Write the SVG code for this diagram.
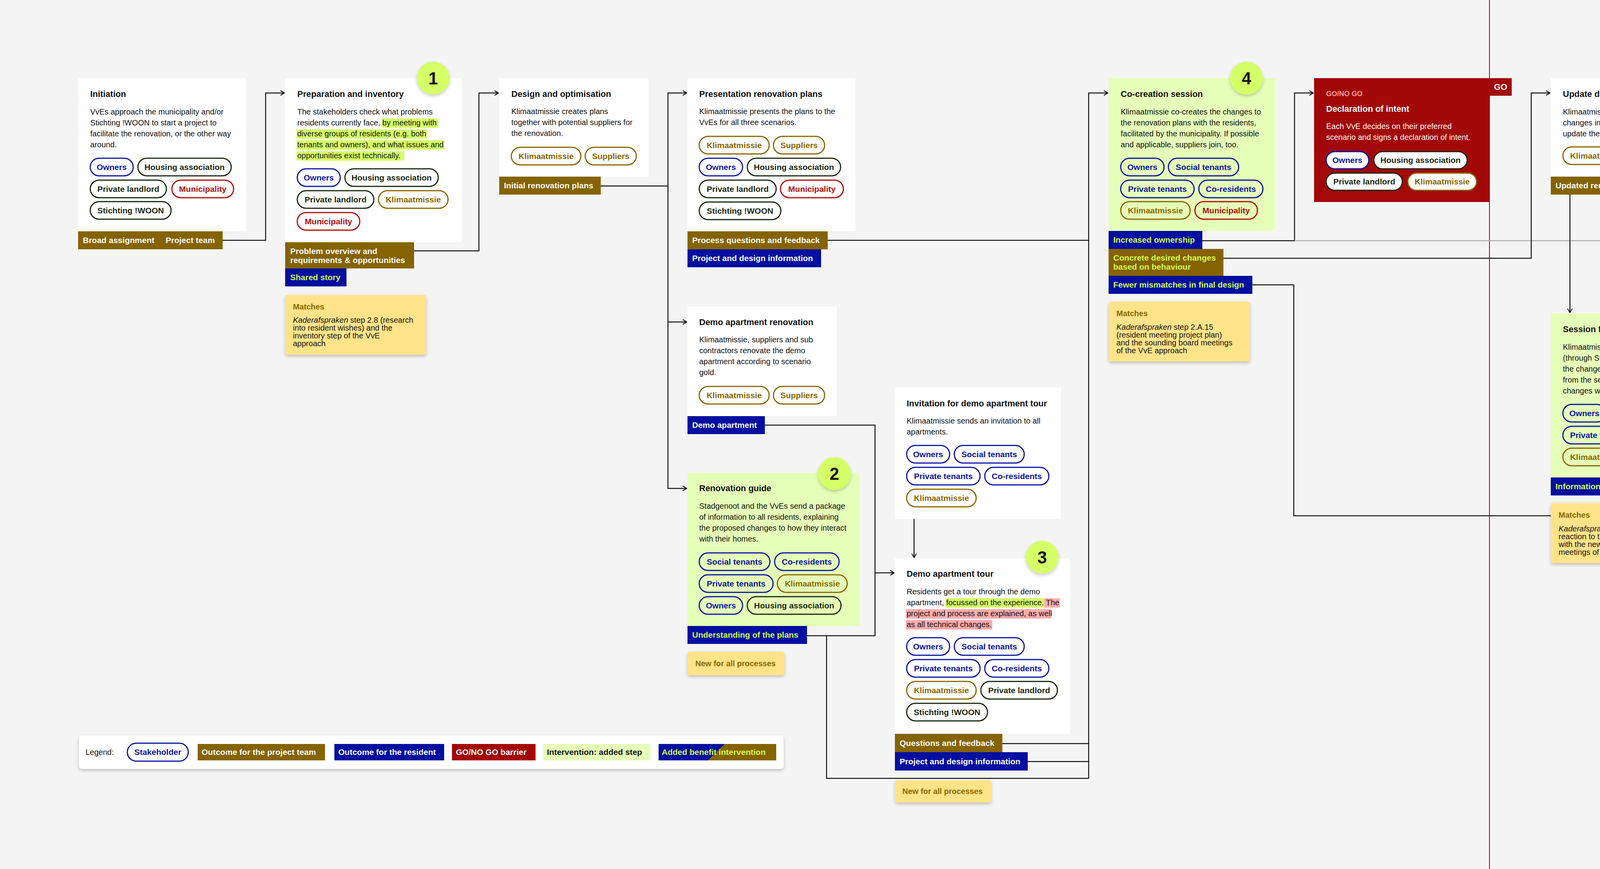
<svg xmlns="http://www.w3.org/2000/svg" width="6916" height="2224" viewBox="0 0 6916 2224">
<style>
text{font-family:"Liberation Sans",Arial,sans-serif}
.t{font-size:22px;font-weight:bold;fill:#111}
.tw{font-size:22px;font-weight:bold;fill:#fff}
.b{font-size:20px;fill:#111}
.bw{font-size:20px;fill:#fff}
.gng{font-size:18px;font-weight:bold;fill:#ff9f9f}
.box{fill:#fff}
.grn{fill:#e5ffb8}
.red{fill:#a30808}
.gold{fill:#856300}
.blue{fill:#000f9f}
.bt{font-size:21px;font-weight:bold;fill:#fff}
.bl{font-size:21px;font-weight:bold;fill:#d2ff4d}
.bk{font-size:21px;font-weight:bold;fill:#111}
.pill rect{fill:none;stroke-width:3}
.w rect{fill:#fff}
.pill text{font-size:21px;font-weight:bold;text-anchor:middle}
.pb rect{stroke:#0a14a5}.pb text{fill:#0a14a5}
.pd rect{stroke:#1a2810}.pd text{fill:#1a2810}
.pr rect{stroke:#b30b0b}.pr text{fill:#b30b0b}
.pg rect{stroke:#8a6500}.pg text{fill:#8a6500}
.pf rect{stroke:#8d92e0}.pf text{fill:#8d92e0}
.circ circle{fill:#d5ff66}
.circ text{font-size:44px;font-weight:bold;fill:#111;text-anchor:middle}
.note rect{fill:#ffe389}
.nh{font-size:20px;font-weight:bold;fill:#8a6500}
.nb{font-size:20px;fill:#111}
.hg{fill:#d5ff66}
.hp{fill:#ffabab}
.go text{font-size:22px;font-weight:bold;fill:#fff;text-anchor:middle}
.con path{fill:none;stroke:#111;stroke-width:2.5}
.con .gr{stroke:#aaa}
.rl{stroke:#a30808;stroke-width:2}
</style>
<defs>
<filter id="sh" x="-20%" y="-20%" width="140%" height="150%"><feDropShadow dx="0" dy="4" stdDeviation="4" flood-color="#000" flood-opacity="0.22"/></filter>
<marker id="a" viewBox="0 0 12 14" refX="11" refY="7" markerWidth="12" markerHeight="14" markerUnits="userSpaceOnUse" orient="auto"><path d="M1,1 L11,7 L1,13" fill="none" stroke="#111" stroke-width="2.2"/></marker>
<marker id="ag" viewBox="0 0 12 14" refX="11" refY="7" markerWidth="12" markerHeight="14" markerUnits="userSpaceOnUse" orient="auto"><path d="M1,1 L11,7 L1,13" fill="none" stroke="#999" stroke-width="2.2"/></marker>
</defs>
<rect width="6916" height="2224" fill="#f4f4f4"/>
<g id="barriers">
<line class="rl" x1="3813" y1="0" x2="3813" y2="2224"/>
<line class="rl" x1="4893" y1="0" x2="4893" y2="2224"/>
<line class="rl" x1="6033" y1="0" x2="6033" y2="2224"/>
</g>
<g id="connectors" class="con">
<path d="M570,615 H680 V238 H728" marker-end="url(#a)"/>
<path d="M1060,642 H1226 V238 H1276" marker-end="url(#a)"/>
<path d="M1538,476 H1710 V238 H1758" marker-end="url(#a)"/>
<path d="M1710,476 V1250 H1758" marker-end="url(#a)"/>
<path d="M1710,824 H1758" marker-end="url(#a)"/>
<path d="M2119,615 H2787"/>
<path d="M1958,1088 H2240 V1627 H2066"/>
<path d="M2240,1466 H2289" marker-end="url(#a)"/>
<path d="M2340,1328 V1427" marker-end="url(#a)"/>
<path d="M2116,1627 V1992 H2787"/>
<path d="M2566,1903 H2787"/>
<path d="M2631,1949 H2787"/>
<path d="M2787,1992 V238 H2836" marker-end="url(#a)"/>
<path d="M3078,616 H3314 V238 H3362" marker-end="url(#a)"/>
<path class="gr" d="M3314,616 H4416 V238 H4450" marker-end="url(#ag)"/>
<path class="gr" d="M4377,1246 H4416 V616"/>
<path d="M3132,661 H3920 V238 H3968" marker-end="url(#a)"/>
<path d="M3206,729 H3312 V1320 H6140"/>
<path d="M5238,672 H6140"/>
<path d="M6140,1320 V238 H6188" marker-end="url(#a)"/>
<path d="M4260,476 H4388 V766 H5000 V238 H5048" marker-end="url(#a)"/>
<path d="M4019,497 V800" marker-end="url(#a)"/>
<path d="M5332,718 H5558 V238 H5608" marker-end="url(#a)"/>
<path d="M6240,609 V750 H6288" marker-end="url(#a)"/>
</g>

<g id="initiation">
<rect class="box" x="200" y="200" width="430" height="392"/>
<text class="t" x="231" y="248">Initiation</text>
<text class="b" x="231" y="293">VvEs approach the municipality and/or<tspan x="231" dy="28">Stichting !WOON to start a project to</tspan><tspan x="231" dy="28">facilitate the renovation, or the other way</tspan><tspan x="231" dy="28">around.</tspan></text>
<g class="pill pb"><rect x="231" y="405" width="110" height="45" rx="22.5"/><text x="286" y="435">Owners</text></g>
<g class="pill pd"><rect x="353" y="405" width="239" height="45" rx="22.5"/><text x="472.5" y="435">Housing association</text></g>
<g class="pill pd"><rect x="231" y="461" width="195" height="45" rx="22.5"/><text x="328.5" y="491">Private landlord</text></g>
<g class="pill pr"><rect x="440" y="461" width="158" height="45" rx="22.5"/><text x="519" y="491">Municipality</text></g>
<g class="pill pd"><rect x="231" y="516" width="207" height="45" rx="22.5"/><text x="334.5" y="546">Stichting !WOON</text></g>
<rect class="gold" x="200" y="592" width="370" height="46"/>
<text class="bt" x="212" y="622">Broad assignment</text>
<text class="bt" x="424" y="622">Project team</text>
</g>

<g id="preparation">
<rect class="box" x="730" y="200" width="452" height="420"/>
<rect class="hg" x="978" y="303" width="144" height="24"/>
<rect class="hg" x="759" y="331" width="334" height="24"/>
<rect class="hg" x="759" y="359" width="378" height="24"/>
<rect class="hg" x="759" y="387" width="276" height="24"/>
<text class="t" x="761" y="248">Preparation and inventory</text>
<text class="b" x="761" y="293">The stakeholders check what problems<tspan x="761" dy="28">residents currently face, by meeting with</tspan><tspan x="761" dy="28">diverse groups of residents (e.g. both</tspan><tspan x="761" dy="28">tenants and owners), and what issues and</tspan><tspan x="761" dy="28">opportunities exist technically.</tspan></text>
<g class="pill pb"><rect x="761" y="432" width="110" height="45" rx="22.5"/><text x="816" y="462">Owners</text></g>
<g class="pill pd"><rect x="883" y="432" width="239" height="45" rx="22.5"/><text x="1002.5" y="462">Housing association</text></g>
<g class="pill pd"><rect x="761" y="488" width="196" height="45" rx="22.5"/><text x="859" y="518">Private landlord</text></g>
<g class="pill pg"><rect x="969" y="488" width="178" height="45" rx="22.5"/><text x="1058" y="518">Klimaatmissie</text></g>
<g class="pill pr"><rect x="761" y="544" width="160" height="45" rx="22.5"/><text x="841" y="574">Municipality</text></g>
<rect class="gold" x="730" y="620" width="330" height="67"/>
<text class="bt" x="743" y="650">Problem overview and<tspan x="743" dy="23">requirements &amp; opportunities</tspan></text>
<rect class="blue" x="730" y="687" width="157" height="46"/>
<text class="bl" x="743" y="717">Shared story</text>
<g class="circ" filter="url(#sh)"><circle cx="1109" cy="200" r="42"/></g>
<g class="circ"><text x="1109" y="216">1</text></g>
<g class="note"><rect x="730" y="755" width="361" height="153" rx="6" filter="url(#sh)"/>
<text class="nh" x="750" y="792">Matches</text>
<text class="nb" x="750" y="826"><tspan font-style="italic">Kaderafspraken</tspan> step 2.8 (research<tspan x="750" dy="20">into resident wishes) and the</tspan><tspan x="750" dy="20">inventory step of the VvE</tspan><tspan x="750" dy="20">approach</tspan></text></g>
</g>

<g id="design">
<rect class="box" x="1278" y="200" width="382" height="252"/>
<text class="t" x="1309" y="248">Design and optimisation</text>
<text class="b" x="1309" y="292">Klimaatmissie creates plans<tspan x="1309" dy="28">together with potential suppliers for</tspan><tspan x="1309" dy="28">the renovation.</tspan></text>
<g class="pill pg"><rect x="1309" y="377" width="178" height="45" rx="22.5"/><text x="1398" y="407">Klimaatmissie</text></g>
<g class="pill pg"><rect x="1498" y="377" width="131" height="45" rx="22.5"/><text x="1563.5" y="407">Suppliers</text></g>
<rect class="gold" x="1278" y="452" width="260" height="46"/>
<text class="bt" x="1290" y="482">Initial renovation plans</text>
</g>

<g id="presentation">
<rect class="box" x="1760" y="200" width="430" height="392"/>
<text class="t" x="1790" y="248">Presentation renovation plans</text>
<text class="b" x="1790" y="292">Klimaatmissie presents the plans to the<tspan x="1790" dy="28">VvEs for all three scenarios.</tspan></text>
<g class="pill pg"><rect x="1790" y="349" width="179" height="45" rx="22.5"/><text x="1879.5" y="379">Klimaatmissie</text></g>
<g class="pill pg"><rect x="1980" y="349" width="131" height="45" rx="22.5"/><text x="2045.5" y="379">Suppliers</text></g>
<g class="pill pb"><rect x="1790" y="405" width="111" height="45" rx="22.5"/><text x="1845.5" y="435">Owners</text></g>
<g class="pill pd"><rect x="1913" y="405" width="239" height="45" rx="22.5"/><text x="2032.5" y="435">Housing association</text></g>
<g class="pill pd"><rect x="1790" y="461" width="197" height="45" rx="22.5"/><text x="1888.5" y="491">Private landlord</text></g>
<g class="pill pr"><rect x="1998" y="461" width="161" height="45" rx="22.5"/><text x="2078.5" y="491">Municipality</text></g>
<g class="pill pd"><rect x="1790" y="517" width="209" height="45" rx="22.5"/><text x="1894.5" y="547">Stichting !WOON</text></g>
<rect class="gold" x="1760" y="592" width="359" height="46"/>
<text class="bt" x="1772" y="622">Process questions and feedback</text>
<rect class="blue" x="1760" y="638" width="342" height="46"/>
<text class="bt" x="1772" y="668">Project and design information</text>
</g>

<g id="demo-renovation">
<rect class="box" x="1760" y="784" width="382" height="281"/>
<text class="t" x="1790" y="832">Demo apartment renovation</text>
<text class="b" x="1790" y="876">Klimaatmissie, suppliers and sub<tspan x="1790" dy="28">contractors renovate the demo</tspan><tspan x="1790" dy="28">apartment according to scenario</tspan><tspan x="1790" dy="28">gold.</tspan></text>
<g class="pill pg"><rect x="1790" y="989" width="179" height="45" rx="22.5"/><text x="1879.5" y="1019">Klimaatmissie</text></g>
<g class="pill pg"><rect x="1980" y="989" width="131" height="45" rx="22.5"/><text x="2045.5" y="1019">Suppliers</text></g>
<rect class="blue" x="1760" y="1065" width="198" height="46"/>
<text class="bt" x="1772" y="1095">Demo apartment</text>
</g>

<g id="renovation-guide">
<rect class="grn" x="1760" y="1210" width="440" height="392"/>
<text class="t" x="1790" y="1257">Renovation guide</text>
<text class="b" x="1790" y="1302">Stadgenoot and the VvEs send a package<tspan x="1790" dy="28">of information to all residents, explaining</tspan><tspan x="1790" dy="28">the proposed changes to how they interact</tspan><tspan x="1790" dy="28">with their homes.</tspan></text>
<g class="pill pb"><rect x="1790" y="1415" width="181" height="45" rx="22.5"/><text x="1880.5" y="1445">Social tenants</text></g>
<g class="pill pb"><rect x="1983" y="1415" width="165" height="45" rx="22.5"/><text x="2065.5" y="1445">Co-residents</text></g>
<g class="pill pb"><rect x="1790" y="1471" width="189" height="45" rx="22.5"/><text x="1884.5" y="1501">Private tenants</text></g>
<g class="pill pg"><rect x="1990" y="1471" width="179" height="45" rx="22.5"/><text x="2079.5" y="1501">Klimaatmissie</text></g>
<g class="pill pb"><rect x="1790" y="1527" width="111" height="45" rx="22.5"/><text x="1845.5" y="1557">Owners</text></g>
<g class="pill pd"><rect x="1913" y="1527" width="240" height="45" rx="22.5"/><text x="2033" y="1557">Housing association</text></g>
<rect class="blue" x="1760" y="1602" width="306" height="46"/>
<text class="bl" x="1772" y="1632">Understanding of the plans</text>
<g class="circ" filter="url(#sh)"><circle cx="2136" cy="1212" r="42"/></g>
<g class="circ"><text x="2136" y="1228">2</text></g>
<g class="note"><rect x="1760" y="1668" width="248" height="60" rx="6" filter="url(#sh)"/>
<text class="nh" x="1780" y="1705">New for all processes</text></g>
</g>

<g id="invitation">
<rect class="box" x="2291" y="992" width="425" height="336"/>
<text class="t" x="2321" y="1040">Invitation for demo apartment tour</text>
<text class="b" x="2321" y="1084">Klimaatmissie sends an invitation to all<tspan x="2321" dy="28">apartments.</tspan></text>
<g class="pill pb"><rect x="2321" y="1140" width="110" height="45" rx="22.5"/><text x="2376" y="1170">Owners</text></g>
<g class="pill pb"><rect x="2443" y="1140" width="179" height="45" rx="22.5"/><text x="2532.5" y="1170">Social tenants</text></g>
<g class="pill pb"><rect x="2321" y="1196" width="188" height="45" rx="22.5"/><text x="2415" y="1226">Private tenants</text></g>
<g class="pill pb"><rect x="2521" y="1196" width="164" height="45" rx="22.5"/><text x="2603" y="1226">Co-residents</text></g>
<g class="pill pg"><rect x="2321" y="1252" width="178" height="45" rx="22.5"/><text x="2410" y="1282">Klimaatmissie</text></g>
</g>

<g id="demo-tour">
<rect class="box" x="2291" y="1429" width="448" height="449"/>
<rect class="hg" x="2420" y="1531" width="253" height="24"/>
<rect class="hp" x="2673" y="1531" width="40" height="24"/>
<rect class="hp" x="2319" y="1559" width="372" height="24"/>
<rect class="hp" x="2319" y="1587" width="221" height="24"/>
<text class="t" x="2321" y="1476">Demo apartment tour</text>
<text class="b" x="2321" y="1521">Residents get a tour through the demo<tspan x="2321" dy="28">apartment, focussed on the experience. The</tspan><tspan x="2321" dy="28">project and process are explained, as well</tspan><tspan x="2321" dy="28">as all technical changes.</tspan></text>
<g class="pill pb"><rect x="2321" y="1632" width="110" height="45" rx="22.5"/><text x="2376" y="1662">Owners</text></g>
<g class="pill pb"><rect x="2443" y="1632" width="179" height="45" rx="22.5"/><text x="2532.5" y="1662">Social tenants</text></g>
<g class="pill pb"><rect x="2321" y="1688" width="188" height="45" rx="22.5"/><text x="2415" y="1718">Private tenants</text></g>
<g class="pill pb"><rect x="2521" y="1688" width="164" height="45" rx="22.5"/><text x="2603" y="1718">Co-residents</text></g>
<g class="pill pg"><rect x="2321" y="1744" width="178" height="45" rx="22.5"/><text x="2410" y="1774">Klimaatmissie</text></g>
<g class="pill pd"><rect x="2511" y="1744" width="196" height="45" rx="22.5"/><text x="2609" y="1774">Private landlord</text></g>
<g class="pill pd"><rect x="2321" y="1800" width="207" height="45" rx="22.5"/><text x="2424.5" y="1830">Stichting !WOON</text></g>
<rect class="gold" x="2291" y="1878" width="275" height="47"/>
<text class="bt" x="2303" y="1909">Questions and feedback</text>
<rect class="blue" x="2291" y="1925" width="340" height="47"/>
<text class="bt" x="2303" y="1956">Project and design information</text>
<g class="circ" filter="url(#sh)"><circle cx="2668" cy="1426" r="42"/></g>
<g class="circ"><text x="2668" y="1442">3</text></g>
<g class="note"><rect x="2291" y="1997" width="246" height="57" rx="6" filter="url(#sh)"/>
<text class="nh" x="2310" y="2032">New for all processes</text></g>
</g>

<g id="co-creation">
<rect class="grn" x="2838" y="200" width="426" height="391"/>
<text class="t" x="2869" y="248">Co-creation session</text>
<text class="b" x="2869" y="293">Klimaatmissie co-creates the changes to<tspan x="2869" dy="28">the renovation plans with the residents,</tspan><tspan x="2869" dy="28">facilitated by the municipality. If possible</tspan><tspan x="2869" dy="28">and applicable, suppliers join, too.</tspan></text>
<g class="pill pb"><rect x="2869" y="405" width="111" height="45" rx="22.5"/><text x="2924.5" y="435">Owners</text></g>
<g class="pill pb"><rect x="2991" y="405" width="180" height="45" rx="22.5"/><text x="3081" y="435">Social tenants</text></g>
<g class="pill pb"><rect x="2869" y="461" width="188" height="45" rx="22.5"/><text x="2963" y="491">Private tenants</text></g>
<g class="pill pb"><rect x="3069" y="461" width="164" height="45" rx="22.5"/><text x="3151" y="491">Co-residents</text></g>
<g class="pill pg"><rect x="2869" y="516" width="178" height="45" rx="22.5"/><text x="2958" y="546">Klimaatmissie</text></g>
<g class="pill pr"><rect x="3059" y="516" width="160" height="45" rx="22.5"/><text x="3139" y="546">Municipality</text></g>
<rect class="blue" x="2838" y="591" width="240" height="46"/>
<text class="bl" x="2850" y="621">Increased ownership</text>
<rect class="gold" x="2838" y="637" width="294" height="69"/>
<text class="bl" x="2850" y="667">Concrete desired changes<tspan x="2850" dy="23">based on behaviour</tspan></text>
<rect class="blue" x="2838" y="706" width="368" height="46"/>
<text class="bl" x="2850" y="736">Fewer mismatches in final design</text>
<g class="circ" filter="url(#sh)"><circle cx="3191" cy="200" r="42"/></g>
<g class="circ"><text x="3191" y="216">4</text></g>
<g class="note"><rect x="2838" y="772" width="362" height="153" rx="6" filter="url(#sh)"/>
<text class="nh" x="2858" y="809">Matches</text>
<text class="nb" x="2858" y="844"><tspan font-style="italic">Kaderafspraken</tspan> step 2.A.15<tspan x="2858" dy="20">(resident meeting project plan)</tspan><tspan x="2858" dy="20">and the sounding board meetings</tspan><tspan x="2858" dy="20">of the VvE approach</tspan></text></g>
</g>

<g id="declaration">
<rect class="red" x="3364" y="200" width="449" height="317"/>
<g class="go"><rect class="red" x="3813" y="200" width="57" height="45"/><text x="3841.5" y="230">GO</text></g>
<text class="gng" x="3395" y="246">GO/NO GO</text>
<text class="tw" x="3395" y="286">Declaration of intent</text>
<text class="bw" x="3395" y="330">Each VvE decides on their preferred<tspan x="3395" dy="28">scenario and signs a declaration of intent.</tspan></text>
<g class="pill pb w"><rect x="3395" y="388" width="109" height="44" rx="22"/><text x="3449.5" y="417">Owners</text></g>
<g class="pill pd w"><rect x="3517" y="388" width="239" height="44" rx="22"/><text x="3636.5" y="417">Housing association</text></g>
<g class="pill pd w"><rect x="3395" y="443" width="195" height="44" rx="22"/><text x="3492.5" y="472">Private landlord</text></g>
<g class="pill pg w"><rect x="3604" y="443" width="176" height="44" rx="22"/><text x="3692" y="472">Klimaatmissie</text></g>
</g>

<g id="update-design">
<rect class="box" x="3970" y="200" width="382" height="252"/>
<text class="t" x="4001" y="248">Update design</text>
<text class="b" x="4001" y="293">Klimaatmissie translates the desired<tspan x="4001" dy="28">changes into the technical details to</tspan><tspan x="4001" dy="28">update the plans.</tspan></text>
<g class="pill pg"><rect x="4001" y="376" width="178" height="45" rx="22.5"/><text x="4090" y="406">Klimaatmissie</text></g>
<g class="pill pg"><rect x="4191" y="376" width="130" height="45" rx="22.5"/><text x="4256" y="406">Suppliers</text></g>
<rect class="gold" x="3970" y="452" width="290" height="46"/>
<text class="bt" x="3982" y="482">Updated renovation plans</text>
</g>

<g id="preferred-scenario">
<rect class="red" x="4452" y="200" width="441" height="514"/>
<g class="go"><rect class="red" x="4893" y="200" width="57" height="46"/><text x="4921.5" y="230">GO</text></g>
<text class="gng" x="4484" y="246">GO/NO GO</text>
<text class="tw" x="4484" y="286">Preferred scenario</text>
<text class="bw" x="4484" y="331">Stadgenoot collects the votes from their<tspan x="4484" dy="28">residents about the renovation, the VvEs</tspan><tspan x="4484" dy="28">hold special member’s assemblies, and</tspan><tspan x="4484" dy="28">finally the VvE boards sign a cooperation</tspan><tspan x="4484" dy="28">agreement with Klimaatmissie.</tspan></text>
<g class="pill pb w"><rect x="4484" y="471" width="108" height="44" rx="22"/><text x="4538" y="500">Owners</text></g>
<g class="pill pb w"><rect x="4605" y="471" width="179" height="44" rx="22"/><text x="4694.5" y="500">Social tenants</text></g>
<g class="pill pb w"><rect x="4484" y="527" width="186" height="44" rx="22"/><text x="4577" y="556">Private tenants</text></g>
<g class="pill pg w"><rect x="4685" y="527" width="174" height="44" rx="22"/><text x="4772" y="556">Klimaatmissie</text></g>
<g class="pill pd w"><rect x="4484" y="583" width="237" height="44" rx="22"/><text x="4602.5" y="612">Housing association</text></g>
<g class="pill pd w"><rect x="4484" y="639" width="193" height="44" rx="22"/><text x="4580.5" y="668">Private landlord</text></g>
</g>

<g id="session-feedback">
<rect class="grn" x="3970" y="802" width="426" height="420"/>
<text class="t" x="4001" y="850">Session feedback</text>
<text class="b" x="4001" y="895">Klimaatmissie updates the residents<tspan x="4001" dy="28">(through Stadgenoot and the VvEs) about</tspan><tspan x="4001" dy="28">the changes to the plans which came</tspan><tspan x="4001" dy="28">from the session, explaining why the</tspan><tspan x="4001" dy="28">changes were (not) implemented.</tspan></text>
<g class="pill pb"><rect x="4001" y="1035" width="110" height="45" rx="22.5"/><text x="4056" y="1065">Owners</text></g>
<g class="pill pb"><rect x="4123" y="1035" width="179" height="45" rx="22.5"/><text x="4212.5" y="1065">Social tenants</text></g>
<g class="pill pb"><rect x="4001" y="1091" width="187" height="45" rx="22.5"/><text x="4094.5" y="1121">Private tenants</text></g>
<g class="pill pb"><rect x="4201" y="1091" width="164" height="45" rx="22.5"/><text x="4283" y="1121">Co-residents</text></g>
<g class="pill pg"><rect x="4001" y="1147" width="178" height="45" rx="22.5"/><text x="4090" y="1177">Klimaatmissie</text></g>
<rect class="blue" x="3970" y="1222" width="407" height="46"/>
<text class="bl" x="3982" y="1252">Information and increased ownership</text>
<g class="circ" filter="url(#sh)"><circle cx="4325" cy="802" r="42"/></g>
<g class="circ"><text x="4325" y="818">5</text></g>
<g class="note"><rect x="3970" y="1288" width="407" height="153" rx="6" filter="url(#sh)"/>
<text class="nh" x="3990" y="1325">Matches</text>
<text class="nb" x="3990" y="1360"><tspan font-style="italic">Kaderafspraken</tspan> step 2.A.17 (written<tspan x="3990" dy="20">reaction to the advice) and could fit</tspan><tspan x="3990" dy="20">with the newsletter and/or information</tspan><tspan x="3990" dy="20">meetings of the VvE approach.</tspan></text></g>
</g>

<g id="individual-housing-plans">
<rect class="box" x="5050" y="200" width="448" height="448"/>
<text class="t" x="5081" y="248">Individual housing plans</text>
<text class="b" x="5081" y="293">Klimaatmissie has conversation with the<tspan x="5081" dy="28">residents or owners of all apartments, to</tspan><tspan x="5081" dy="28">find out particular details and calculate the</tspan><tspan x="5081" dy="28">individual costs.</tspan></text>
<g class="pill pb"><rect x="5081" y="405" width="110" height="45" rx="22.5"/><text x="5136" y="435">Owners</text></g>
<g class="pill pb"><rect x="5203" y="405" width="180" height="45" rx="22.5"/><text x="5293" y="435">Social tenants</text></g>
<g class="pill pf"><rect x="5081" y="461" width="187" height="45" rx="22.5"/><text x="5174.5" y="491">Private tenants</text></g>
<g class="pill pf"><rect x="5281" y="461" width="163" height="45" rx="22.5"/><text x="5362.5" y="491">Co-residents</text></g>
<g class="pill pg"><rect x="5081" y="517" width="178" height="45" rx="22.5"/><text x="5170" y="547">Klimaatmissie</text></g>
<g class="pill pd"><rect x="5271" y="517" width="196" height="45" rx="22.5"/><text x="5369" y="547">Private landlord</text></g>
<g class="pill pd"><rect x="5081" y="573" width="208" height="45" rx="22.5"/><text x="5185" y="603">Stichting !WOON</text></g>
<rect class="gold" x="5050" y="648" width="188" height="46"/>
<text class="bt" x="5062" y="678">Individual plans</text>
<rect class="blue" x="5050" y="694" width="282" height="46"/>
<text class="bt" x="5062" y="724">Information for residents</text>
</g>

<g id="contract-granting">
<rect class="red" x="5610" y="200" width="423" height="401"/>
<g class="go"><rect class="red" x="6033" y="200" width="57" height="46"/><text x="6061.5" y="230">GO</text></g>
<text class="gng" x="5642" y="246">GO/NO GO</text>
<text class="tw" x="5642" y="286">Contract granting</text>
<text class="bw" x="5642" y="331">Several other agreements are signed, for<tspan x="5642" dy="28">financing, maintenance, performance</tspan><tspan x="5642" dy="28">and service.</tspan></text>
<g class="pill pb w"><rect x="5642" y="415" width="108" height="44" rx="22"/><text x="5696" y="444">Owners</text></g>
<g class="pill pg w"><rect x="5764" y="415" width="176" height="44" rx="22"/><text x="5852" y="444">Klimaatmissie</text></g>
<g class="pill pd w"><rect x="5642" y="471" width="237" height="44" rx="22"/><text x="5760.5" y="500">Housing association</text></g>
<g class="pill pd w"><rect x="5642" y="527" width="193" height="44" rx="22"/><text x="5738.5" y="556">Private landlord</text></g>
</g>

<g id="execution">
<rect class="box" x="6190" y="200" width="467" height="363"/>
<text class="t" x="6220" y="248">Execution project work and completion</text>
<text class="b" x="6220" y="292">The apartments are renovated. The residents<tspan x="6220" dy="28">can stay in their apartment, but need to make</tspan><tspan x="6220" dy="28">some preparations, like moving furniture.</tspan></text>
<g class="pill pg"><rect x="6220" y="376" width="179" height="45" rx="22.5"/><text x="6309.5" y="406">Klimaatmissie</text></g>
<g class="pill pg"><rect x="6411" y="376" width="130" height="45" rx="22.5"/><text x="6476" y="406">Suppliers</text></g>
<g class="pill pb"><rect x="6220" y="432" width="111" height="45" rx="22.5"/><text x="6275.5" y="462">Owners</text></g>
<g class="pill pb"><rect x="6342" y="432" width="181" height="45" rx="22.5"/><text x="6432.5" y="462">Social tenants</text></g>
<g class="pill pb"><rect x="6220" y="488" width="190" height="45" rx="22.5"/><text x="6315" y="518">Private tenants</text></g>
<g class="pill pb"><rect x="6421" y="488" width="164" height="45" rx="22.5"/><text x="6503" y="518">Co-residents</text></g>
<rect class="blue" x="6190" y="563" width="248" height="46"/>
<text class="bt" x="6202" y="593">Renovated apartment</text>
</g>

<g id="exploitation">
<rect class="box" x="6290" y="710" width="426" height="392"/>
<text class="t" x="6320" y="758">Exploitation and monitoring</text>
<text class="b" x="6320" y="802">Residents live in the renovated<tspan x="6320" dy="28">apartments, while Klimaatmissie and the</tspan><tspan x="6320" dy="28">suppliers monitor the performance of the</tspan><tspan x="6320" dy="28">installations.</tspan></text>
<g class="pill pg"><rect x="6320" y="915" width="179" height="45" rx="22.5"/><text x="6409.5" y="945">Klimaatmissie</text></g>
<g class="pill pg"><rect x="6511" y="915" width="130" height="45" rx="22.5"/><text x="6576" y="945">Suppliers</text></g>
<g class="pill pb"><rect x="6320" y="971" width="111" height="45" rx="22.5"/><text x="6375.5" y="1001">Owners</text></g>
<g class="pill pb"><rect x="6443" y="971" width="180" height="45" rx="22.5"/><text x="6533" y="1001">Social tenants</text></g>
<g class="pill pb"><rect x="6320" y="1027" width="189" height="45" rx="22.5"/><text x="6414.5" y="1057">Private tenants</text></g>
<g class="pill pb"><rect x="6521" y="1027" width="164" height="45" rx="22.5"/><text x="6603" y="1057">Co-residents</text></g>
<rect class="blue" x="6290" y="1102" width="332" height="46"/>
<text class="bt" x="6302" y="1132">Improvements to installations</text>
</g>

<g id="legend">
<rect x="202" y="1882" width="1804" height="86" rx="8" fill="#fff" filter="url(#sh)"/>
<text class="b" x="219" y="1932">Legend:</text>
<g class="pill pb"><rect x="326" y="1902" width="156" height="46" rx="23"/><text x="404" y="1932">Stakeholder</text></g>
<rect class="gold" x="506" y="1904" width="326" height="42"/>
<text class="bt" x="516" y="1932">Outcome for the project team</text>
<rect class="blue" x="856" y="1904" width="281" height="42"/>
<text class="bt" x="866" y="1932">Outcome for the resident</text>
<rect class="red" x="1157" y="1904" width="214" height="42"/>
<text class="bt" x="1167" y="1932">GO/NO GO barrier</text>
<rect class="grn" x="1390" y="1904" width="275" height="42"/>
<text class="bk" x="1400" y="1932">Intervention: added step</text>
<polygon class="gold" points="1686,1904 1987,1904 1987,1946 1686,1946"/>
<polygon class="blue" points="1686,1904 1855,1904 1812,1946 1686,1946"/>
<text class="bl" x="1694" y="1932">Added benefit intervention</text>
</g>
</svg>
